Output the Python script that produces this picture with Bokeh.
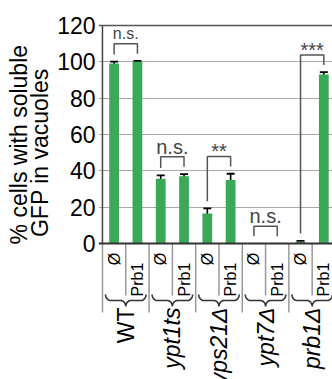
import numpy as np
from math import pi
from bokeh.plotting import figure
from bokeh.layouts import row
from bokeh.models import (ColumnDataSource, Range1d, FixedTicker, Span,
                          Whisker, TeeHead)
from bokeh.core.properties import value
from bokeh.embed import file_html
from bokeh.resources import INLINE

# ---------------- data ----------------
groups = ["WT", "ypt1ts", "vps21Δ", "ypt7Δ", "prb1Δ"]
group_styles = ["normal", "italic", "italic", "italic", "italic"]
conditions = ["Ø", "Prb1"]
means = [99.1, 100.0, 35.6, 37.0, 16.5, 35.0, 0.0, 0.0, 1.0, 93.0]
errors = [1.0, 0.5, 1.9, 1.2, 2.8, 3.4, 0.0, 0.0, 0.5, 1.3]
significance = ["n.s.", "n.s.", "**", "n.s.", "***"]
y_ticks = [0, 20, 40, 60, 80, 100, 120]
y_title = ["% cells with soluble", "GFP in vacuoles"]

# ---------------- style / geometry ----------------
FONT = "Liberation Sans"
GREEN = "#3aaa58"
W_TITLE = 54
W = 332 - W_TITLE
H = 379
BL, BT = 42, 23
PX_PER_SLOT = 23.5
PX_PER_UNIT = 218 / 120.0
frame_w = W - BL
x_start = -4 / PX_PER_SLOT
x_end = x_start + frame_w / PX_PER_SLOT
y_end = max(y_ticks) + 2 / PX_PER_UNIT
y_start = y_end - (H - BT) / PX_PER_UNIT


def below(px):
    """pixels below the zero line -> data units"""
    return -px / PX_PER_UNIT


def bare(fig):
    fig.outline_line_color = None
    fig.background_fill_color = "white"
    fig.border_fill_color = "white"
    fig.xgrid.visible = False
    fig.ygrid.visible = False


# ================= title strip =================
tf = figure(width=W_TITLE, height=H, output_backend="svg",
            toolbar_location=None, x_range=Range1d(0, W_TITLE),
            y_range=Range1d(H, 0), x_axis_location=None,
            y_axis_location=None, min_border=0)
bare(tf)
tf.text(x=[18.5, 39.5], y=[129.0, 137.5], text=y_title, angle=pi / 2,
        text_font=value(FONT), text_font_size="23px", text_align="center",
        text_baseline="middle", text_color="black")

# ================= main figure =================
p = figure(width=W, height=H, output_backend="svg", toolbar_location=None,
           x_range=Range1d(x_start, x_end), y_range=Range1d(y_start, y_end),
           x_axis_location=None, min_border_left=BL, min_border_top=BT,
           min_border_right=0, min_border_bottom=0)
bare(p)
p.ygrid.visible = True
p.ygrid.ticker = FixedTicker(ticks=y_ticks[1:-1])
p.ygrid.grid_line_color = "#a8a8a8"
p.ygrid.grid_line_width = 1.2

ax = p.yaxis[0]
ax.ticker = FixedTicker(ticks=y_ticks)
ax.axis_line_color = None
ax.major_tick_line_color = None
ax.minor_tick_line_color = None
ax.major_tick_out = 0
ax.major_tick_in = 0
ax.major_label_standoff = 3
ax.major_label_text_font = FONT
ax.major_label_text_font_size = "23px"
ax.major_label_text_color = "black"

n = len(groups) * len(conditions)
xs = [i + 0.5 for i in range(n)]
bar_src = ColumnDataSource(dict(x=xs, top=means))
p.vbar(x="x", top="top", bottom=0, width=0.42, source=bar_src,
       fill_color=GREEN, line_color=None)

ex = [x for x, e in zip(xs, errors) if e > 0]
em = [m for m, e in zip(means, errors) if e > 0]
ee = [e for e in errors if e > 0]
err_src = ColumnDataSource(dict(x=ex, upper=[m + e for m, e in zip(em, ee)],
                                lower=[m - e for m, e in zip(em, ee)]))
p.add_layout(Whisker(source=err_src, base="x", upper="upper", lower="lower",
                     line_color="black", line_width=1.6,
                     upper_head=TeeHead(size=8, line_color="black", line_width=1.8),
                     lower_head=TeeHead(size=8, line_color="black", line_width=1.8)))

# frame borders
p.add_layout(Span(location=max(y_ticks), dimension="width", line_color="#555555", line_width=1.6))
p.add_layout(Span(location=0, dimension="width", line_color="#333333", line_width=1.8))
p.segment(x0=[0], y0=[0], x1=[0], y1=[max(y_ticks)], line_color="#444444", line_width=1.5)

# significance brackets
bx, by, tx, ty, tt, tsize = [], [], [], [], [], []
for g, lab in enumerate(significance):
    i0, i1 = 2 * g, 2 * g + 1
    l, r = xs[i0], xs[i1]
    lb = means[i0] + errors[i0] + 4
    rb = means[i1] + errors[i1] + 4
    top = max(lb, rb) + 5.5
    bx.append([l, l, r, r])
    by.append([lb, top, top, rb])
    tx.append((l + r) / 2)
    if "*" in lab:
        ty.append(top + 2.9)
        tsize.append("20px")
    else:
        ty.append(top + 5.6)
        tsize.append("16px" if g == 0 else "20px")
    tt.append(lab)
p.multi_line(xs=bx, ys=by, line_color="#555555", line_width=1.5)
sig_src = ColumnDataSource(dict(x=tx, y=ty, text=tt, fs=tsize))
p.text(x="x", y="y", text="text", source=sig_src, text_font=value(FONT),
       text_font_size="fs", text_align="center", text_baseline="alphabetic",
       text_color="#444444")

# ---- category table below the zero line ----
sep_x = list(range(n + 1))
sy1 = [below(69) if k % 2 == 0 else below(52) for k in sep_x]
p.segment(x0=sep_x, y0=[0] * len(sep_x), x1=sep_x, y1=sy1,
          line_color="#999999", line_width=1.5)

cl_x, cl_y, cl_t = [], [], []
for i in range(n):
    cl_x.append(xs[i])
    cl_y.append(below(15.5) if i % 2 == 0 else below(36))
    cl_t.append(conditions[i % 2])
p.text(x=cl_x, y=cl_y, text=cl_t, angle=pi / 2, text_font=value(FONT),
       text_font_size="16px", text_align="center", text_baseline="middle",
       text_color="black")

brx, bry = [], []
t = np.linspace(0, 1, 8)
for g in range(len(groups)):
    xl, xr, xc = 2 * g + 0.13, 2 * g + 2 - 0.13, 2 * g + 1
    y_e = below(51); y_m = below(57); y_tip = below(63)
    qq = 0.22
    px = list(xl + qq * (1 - np.cos(t * pi / 2)))
    pyy = list(y_e + (y_m - y_e) * np.sin(t * pi / 2))
    px += list(xc - qq + qq * np.sin(t * pi / 2))
    pyy += list(y_m + (y_tip - y_m) * (1 - np.cos(t * pi / 2)))
    px += list(xc + qq * (1 - np.cos(t * pi / 2)))
    pyy += list(y_tip + (y_m - y_tip) * np.sin(t * pi / 2))
    px += list(xr - qq + qq * np.sin(t * pi / 2))
    pyy += list(y_m + (y_e - y_m) * (1 - np.cos(t * pi / 2)))
    brx.append(px); bry.append(pyy)
p.multi_line(xs=brx, ys=bry, line_color="#333333", line_width=1.6)

grp_src = ColumnDataSource(dict(x=[2 * g + 1 for g in range(len(groups))],
                                y=[below(64)] * len(groups), text=groups,
                                style=group_styles))
p.text(x="x", y="y", text="text", source=grp_src, angle=pi / 2,
       text_font=value(FONT), text_font_size="23px", text_font_style="style",
       text_align="right", text_baseline="middle", text_color="black")

layout = row(tf, p, spacing=0)
open("out.html", "w").write(file_html(layout, INLINE))
